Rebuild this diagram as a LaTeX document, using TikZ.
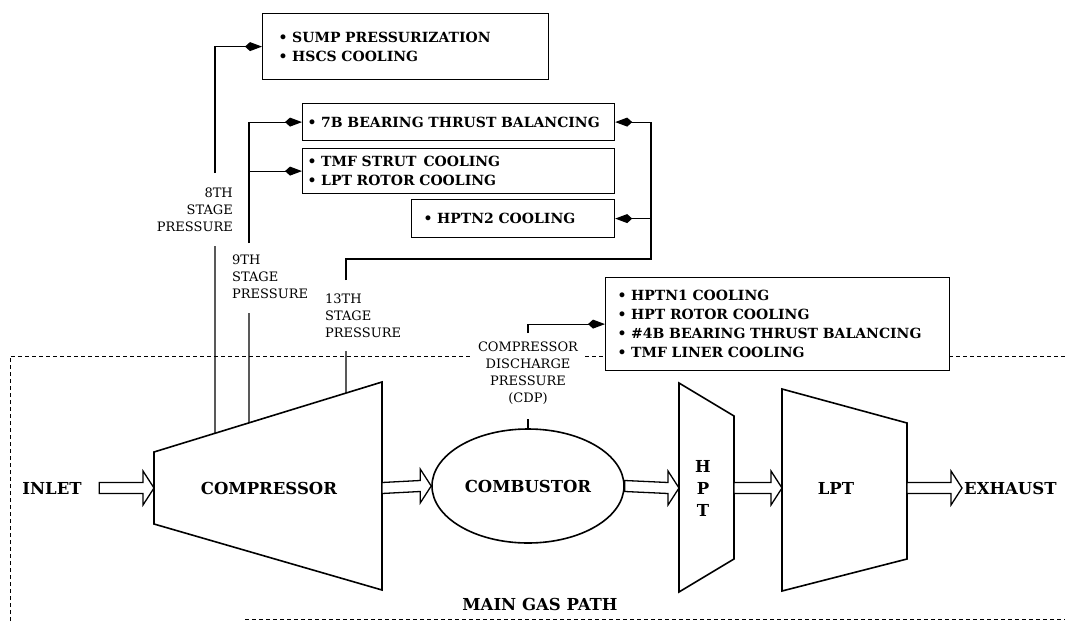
\documentclass[tikz,border=0pt]{standalone}
\usepackage{fontspec}
\setmainfont{DejaVu Serif}
\usetikzlibrary{arrows.meta,calc,shapes.geometric}
\newcommand{\boxfont}{\bfseries\fontsize{14}{19}\selectfont}
\newcommand{\partfont}{\bfseries\fontsize{16.5}{22}\selectfont}
\newcommand{\tapfont}{\fontsize{13}{17}\selectfont}
\tikzset{
  coolbox/.style={draw,line width=1.2pt,fill=white,anchor=north west,align=left,inner ysep=0pt,font=\boxfont},
  part/.style={draw,line width=1.6pt},
  bleed/.style={line width=1.2pt},
  feed/.style={line width=1.2pt,-{Kite[length=17pt,width=9pt,inset=5pt]}},
  tap/.style={font=\tapfont,inner sep=2pt},
  flow/.style={line width=1.3pt,fill=white},
  frame/.style={line width=0.9pt,dash pattern=on 4pt off 3pt},
}
% hollow arrow of the gas path
\newcommand{\gasflow}[2]{%
  \path (#1) coordinate (fa) (#2) coordinate (fb);
  \draw[flow] ($(fa)+(0,5.5)$) -- ($(fb)+(-11,5.5)$) -- ($(fb)+(-11,17)$) -- (fb)
    -- ($(fb)+(-11,-17)$) -- ($(fb)+(-11,-5.5)$) -- ($(fa)+(0,-5.5)$) -- cycle;}
\begin{document}
\begin{tikzpicture}[x=1pt,y=-1pt]
\useasboundingbox (0,0) rectangle (1065,621);
% \draw[help lines,step=50] (0,0) grid (1065,621);
\draw[frame] (10,621) -- (10,356) -- (1065,356);
\draw[frame] (245,619) -- (1065,619);
%
% main gas path
\coordinate (cTL) at (154,452);
\coordinate (cTR) at (382,382);
\coordinate (cBR) at (382,590);
\coordinate (cBL) at (154,524);
\draw[part] (cTL) -- (cTR) -- (cBR) -- (cBL) -- cycle;
\draw[part] (679,383) -- (734,416) -- (734,559) -- (679,592) -- cycle;
\draw[part] (782,389) -- (907,423) -- (907,559) -- (782,591) -- cycle;
\node (comb) [part,ellipse,minimum width=192,minimum height=114,font=\partfont] at (528,486) {COMBUSTOR};
\node (inlet) [font=\partfont] at (52,488) {INLET};
\node (comp) [font=\partfont] at (269,488) {COMPRESSOR};
\node (hpt) [font=\partfont,align=center] at (703,488) {H\\P\\T};
\node (lpt) [font=\partfont] at (836,488) {LPT};
\node (exh) [font=\partfont,anchor=west,inner xsep=2pt] at (962,488) {EXHAUST};
\node (mgp) [font=\partfont] at (540,604) {MAIN GAS PATH};
\coordinate (cmpIn) at (154,488);
\coordinate (cmpOut) at (382,488);
\coordinate (hptIn) at (679,488);
\coordinate (hptOut) at (734,488);
\coordinate (lptIn) at (782,488);
\coordinate (lptOut) at (907,488);
\gasflow{$(inlet.east)+(14,0)$}{cmpIn}
\gasflow{cmpOut}{comb.west}
\gasflow{comb.east}{hptIn}
\gasflow{hptOut}{lptIn}
\gasflow{lptOut}{exh.west}
%
% cooling and sealing air users
\node (sump) [coolbox,inner xsep=16,text width=254,minimum height=66] at (262,13)
  {\textbullet\ SUMP PRESSURIZATION\\\textbullet\ HSCS COOLING};
\node (bear) [coolbox,inner xsep=5,text width=302,minimum height=37] at (302,103)
  {\textbullet\ 7B BEARING THRUST BALANCING};
\node (strut) [coolbox,inner xsep=5,text width=302,minimum height=45] at (302,148)
  {\textbullet\ TMF STRUT\enspace COOLING\\\textbullet\ LPT ROTOR COOLING};
\node (hptn2) [coolbox,inner xsep=12,text width=179,minimum height=38] at (411,199)
  {\textbullet\ HPTN2 COOLING};
\node (hptn1) [coolbox,inner xsep=12,text width=320,minimum height=93] at (605,277)
  {\textbullet\ HPTN1 COOLING\\\textbullet\ HPT ROTOR COOLING\\
   \textbullet\ \#4B BEARING THRUST BALANCING\\\textbullet\ TMF LINER COOLING};
%
% bleed labels
\node (l8) [tap,align=right,anchor=east] at (235,210) {8TH\\STAGE\\PRESSURE};
\node (l9) [tap,align=left,anchor=west] at (230,277) {9TH\\STAGE\\PRESSURE};
\node (l13) [tap,align=left,anchor=west] at (323,316) {13TH\\STAGE\\PRESSURE};
\node (cdp) [tap,align=center,fill=white,inner xsep=5pt] at (528,373)
  {COMPRESSOR\\DISCHARGE\\PRESSURE\\(CDP)};
%
% bleed lines
\coordinate (b8) at ($(cTL)!0.2675!(cTR)$);
\coordinate (b9) at ($(cTL)!0.4167!(cTR)$);
\coordinate (b13) at ($(cTL)!0.842!(cTR)$);
\coordinate (p8lo) at (215,246);
\coordinate (p8hi) at (215,173);
\coordinate (p9lo) at (249,313);
\coordinate (p9hi) at (249,243);
\coordinate (p13lo) at (346,351);
\coordinate (p13hi) at (346,280);
\coordinate (r13) at (651,259);
\coordinate (cdplo) at (528,419);
\coordinate (cdphi) at (528,333);
\draw[bleed] (b8) -- (p8lo);
\draw[feed] (p8hi) |- (sump.west);
\draw[bleed] (b9) -- (p9lo);
\draw[feed] (p9hi) |- (bear.west);
\draw[feed] (p9hi |- strut.west) -- (strut.west);
\draw[bleed] (b13) -- (p13lo);
\draw[feed] (p13hi) |- (r13) |- (bear.east);
\draw[feed] (r13 |- hptn2.east) -- (hptn2.east);
\draw[bleed] (comb.north) -- (cdplo);
\draw[feed] (cdphi) |- (hptn1.west);
\end{tikzpicture}
\end{document}
